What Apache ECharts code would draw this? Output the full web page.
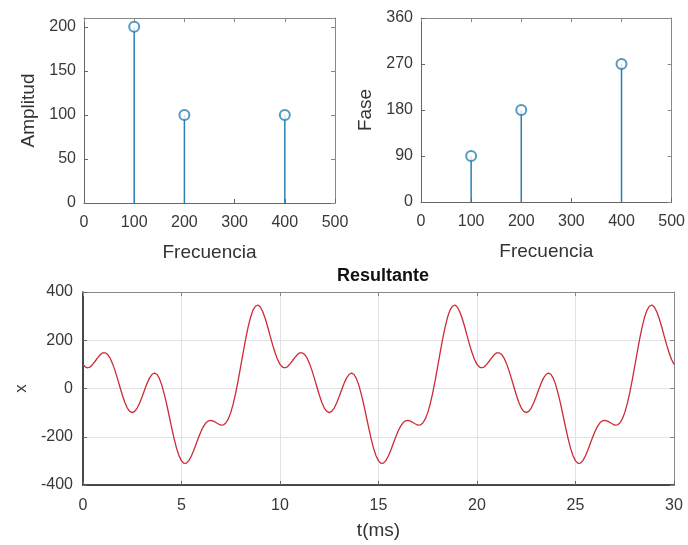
<!DOCTYPE html>
<html lang="es">
<head>
<meta charset="UTF-8">
<title>Espectro y resultante</title>
<script src="https://cdn.jsdelivr.net/npm/echarts@6/dist/echarts.min.js"></script>
<style>
    * { margin: 0; padding: 0; }
    body { background: #fff; }
    #chart { width: 688px; height: 545px; }
</style>
</head>
<body>
<div id="chart"></div>
<script>
    // espectro
    const freqs = [100, 200, 400];
    const amplitudes = [200, 100, 100];
    const phases = [90, 180, 270];

    // señal resultante, una muestra cada 0.125 ms (0 .. 30 ms)
    const tStepMs = 0.125;
    const signal = [
        100, 89, 86, 90, 101, 114, 128, 140, 148, 148, 141, 126, 103, 74, 41, 6, -28, -58, -81, -95,
        -100, -95, -81, -60, -34, -6, 21, 43, 58, 64, 59, 42, 14, -23, -66, -114, -162, -208, -248, -279,
        -300, -310, -309, -299, -280, -256, -228, -201, -176, -156, -141, -134, -132, -135, -141, -147, -152, -151, -143, -126,
        -100, -64, -19, 33, 90, 147, 203, 252, 294, 324, 341, 346, 338, 318, 290, 256, 218, 181, 148, 120,
        100, 89, 86, 90, 101, 114, 128, 140, 148, 148, 141, 126, 103, 74, 41, 6, -28, -58, -81, -95,
        -100, -95, -81, -60, -34, -6, 21, 43, 58, 64, 59, 42, 14, -23, -66, -114, -162, -208, -248, -279,
        -300, -310, -309, -299, -280, -256, -228, -201, -176, -156, -141, -134, -132, -135, -141, -147, -152, -151, -143, -126,
        -100, -64, -19, 33, 90, 147, 203, 252, 294, 324, 341, 346, 338, 318, 290, 256, 218, 181, 148, 120,
        100, 89, 86, 90, 101, 114, 128, 140, 148, 148, 141, 126, 103, 74, 41, 6, -28, -58, -81, -95,
        -100, -95, -81, -60, -34, -6, 21, 43, 58, 64, 59, 42, 14, -23, -66, -114, -162, -208, -248, -279,
        -300, -310, -309, -299, -280, -256, -228, -201, -176, -156, -141, -134, -132, -135, -141, -147, -152, -151, -143, -126,
        -100, -64, -19, 33, 90, 147, 203, 252, 294, 324, 341, 346, 338, 318, 290, 256, 218, 181, 148, 120,
        100
    ];

    const font = 'Liberation Sans, Arial, sans-serif';
    const labelColor = '#383838';
    const stemColor = '#2a80b0';

    let myChart = echarts.init(document.getElementById('chart'));

    function tickLabel(margin) {
        return { color: labelColor, fontSize: 16, fontFamily: font, margin: margin };
    }

    // eje principal (abajo / izquierda)
    function mainAxis(gridIndex, min, max, interval, name, gap, extra) {
        return Object.assign({
            gridIndex: gridIndex,
            type: 'value',
            min: min,
            max: max,
            interval: interval,
            name: name,
            nameLocation: 'middle',
            nameGap: gap,
            nameTextStyle: { color: '#333', fontSize: 19, fontFamily: font },
            axisLine: { show: true, onZero: false, lineStyle: { color: '#666', width: 1 } },
            axisTick: { show: true, inside: true, length: 4, lineStyle: { color: '#666' } },
            axisLabel: tickLabel(8),
            splitLine: { show: false }
        }, extra || {});
    }
    // eje espejo (arriba / derecha), solo marcas
    function mirrorAxis(gridIndex, min, max, interval, position) {
        return {
            gridIndex: gridIndex,
            type: 'value',
            position: position,
            min: min,
            max: max,
            interval: interval,
            axisLine: { show: true, onZero: false, lineStyle: { color: '#888' } },
            axisTick: { show: true, inside: true, length: 4, lineStyle: { color: '#888' } },
            axisLabel: { show: false },
            splitLine: { show: false }
        };
    }

    const option = {
        backgroundColor: '#fff',
        animation: false,
        title: {
            text: 'Resultante',
            left: 378,
            top: 262,
            textAlign: 'center',
            textStyle: { fontSize: 18, fontWeight: 'bold', color: '#111', fontFamily: font }
        },
        grid: [
            { left: 84, top: 18, width: 251, height: 185 },
            { left: 421, top: 18, width: 252, height: 184 },
            { left: 83, top: 292, width: 591, height: 193 }
        ],
        xAxis: [
            mainAxis(0, 0, 500, 100, 'Frecuencia', 40, { axisLabel: tickLabel(12) }),
            mainAxis(1, 0, 500, 100, 'Frecuencia', 40, { axisLabel: tickLabel(12) }),
            mainAxis(2, 0, 30, 5, 't(ms)', 36, {
                axisLine: { show: true, onZero: false, lineStyle: { color: '#111', width: 1.5 } },
                axisLabel: tickLabel(13),
                splitLine: { show: true, lineStyle: { color: '#e2e2e2' } }
            }),
            mirrorAxis(0, 0, 500, 100, 'top'),
            mirrorAxis(1, 0, 500, 100, 'top'),
            mirrorAxis(2, 0, 30, 5, 'top')
        ],
        yAxis: [
            mainAxis(0, 0, 210, 50, 'Amplitud', 46, { axisLabel: tickLabel(8) }),
            mainAxis(1, 0, 360, 90, 'Fase', 46, { axisLabel: tickLabel(8) }),
            mainAxis(2, -400, 400, 200, 'x', 51, {
                nameTextStyle: { color: '#333', fontSize: 17, fontFamily: font },
                axisLine: { show: true, onZero: false, lineStyle: { color: '#111', width: 1.5 } },
                axisLabel: tickLabel(10),
                splitLine: { show: true, lineStyle: { color: '#e2e2e2' } }
            }),
            mirrorAxis(0, 0, 210, 50, 'right'),
            mirrorAxis(1, 0, 360, 90, 'right'),
            mirrorAxis(2, -400, 400, 200, 'right')
        ],
        series: [
            {
                type: 'bar',
                xAxisIndex: 0, yAxisIndex: 0,
                barWidth: 1.5,
                itemStyle: { color: stemColor },
                data: freqs.map((f, i) => [f, amplitudes[i]])
            },
            {
                type: 'scatter',
                xAxisIndex: 0, yAxisIndex: 0,
                symbol: 'emptyCircle',
                symbolSize: 10,
                itemStyle: { color: stemColor, borderWidth: 1.5 },
                data: freqs.map((f, i) => [f, amplitudes[i]])
            },
            {
                type: 'bar',
                xAxisIndex: 1, yAxisIndex: 1,
                barWidth: 1.5,
                itemStyle: { color: stemColor },
                data: freqs.map((f, i) => [f, phases[i]])
            },
            {
                type: 'scatter',
                xAxisIndex: 1, yAxisIndex: 1,
                symbol: 'emptyCircle',
                symbolSize: 10,
                itemStyle: { color: stemColor, borderWidth: 1.5 },
                data: freqs.map((f, i) => [f, phases[i]])
            },
            {
                type: 'line',
                xAxisIndex: 2, yAxisIndex: 2,
                showSymbol: false,
                lineStyle: { color: '#cc2a35', width: 1.3 },
                data: signal.map((v, i) => [i * tStepMs, v])
            }
        ]
    };
    myChart.setOption(option);
</script>
</body>
</html>
